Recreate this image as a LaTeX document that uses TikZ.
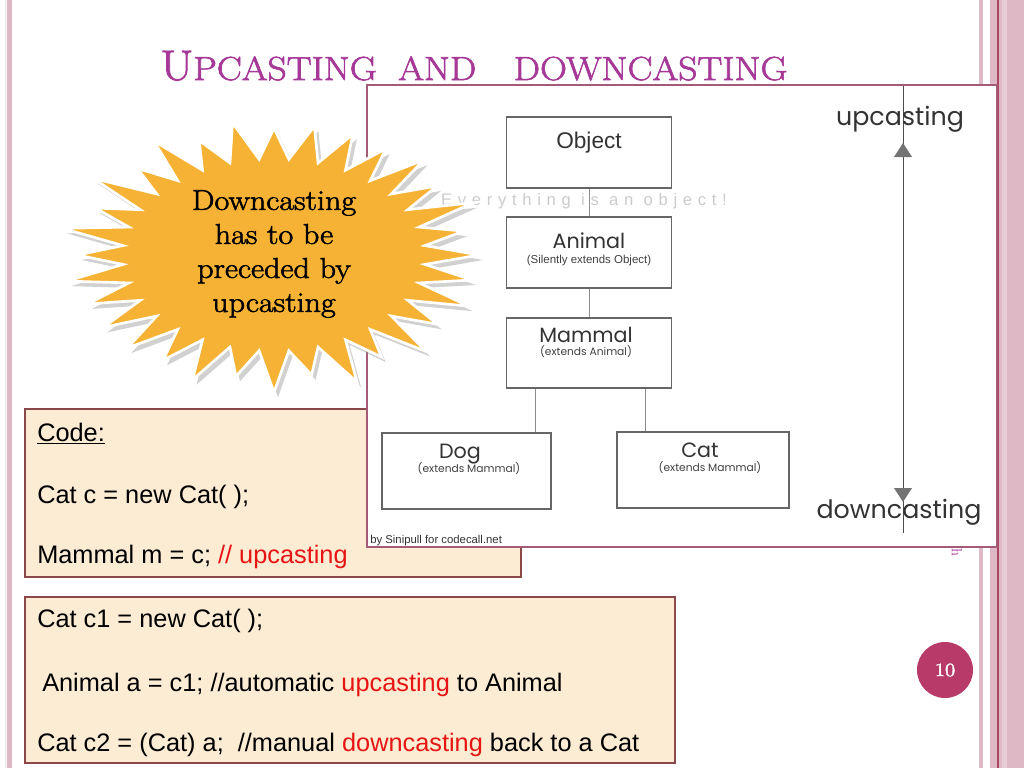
\documentclass[tikz,border=0pt]{standalone}
\usepackage{fontspec}
\newfontfamily\arialfont{Liberation Sans}
\newfontfamily\gothicfont{Poppins}
\newfontfamily\spacedfont[LetterSpace=34]{Liberation Sans}
\newfontfamily\bookfont[FakeStretch=1.12,FakeBold=2]{Latin Modern Roman}
\usetikzlibrary{positioning}

\definecolor{titlepurple}{RGB}{166,56,152}
\definecolor{starorange}{RGB}{246,178,52}
\definecolor{peach}{RGB}{253,236,212}
\definecolor{boxbrown}{RGB}{140,72,72}
\definecolor{framepink}{RGB}{165,90,120}
\definecolor{barpink}{RGB}{222,184,196}
\definecolor{barline}{RGB}{170,70,100}
\definecolor{numberred}{RGB}{184,58,104}
\definecolor{codered}{RGB}{230,20,20}

\newcommand{\px}{0.75pt}
% spiky outline of the note, centred on the origin
\newcommand{\burstpath}[1]{%
  \path[#1] (0:205 and 130)
    \foreach \k [evaluate=\k as \spk using {0.87+0.13*cos(\k*180)+0.03*sin(\k*97)*(1+cos(\k*180))}] in {1,...,63}
      { -- ({\k*45/8}:{\spk*205} and {\spk*130}) } -- cycle;}

\begin{document}
\begin{tikzpicture}[x=0.75pt,y=-0.75pt,
    diabox/.style={draw=black!60, line width=0.9pt, fill=white, inner sep=0pt},
    link/.style={draw=black!45, line width=0.6pt},
    classname/.style={anchor=base, inner sep=0pt, text=black!80, font=\gothicfont\fontsize{15.5}{16}\selectfont},
    classnote/.style={anchor=base, inner sep=0pt, text=black!75, font=\gothicfont\fontsize{8}{9}\selectfont},
    castlabel/.style={anchor=base, inner sep=0pt, text=black!80, font=\gothicfont\fontsize{19}{20}\selectfont},
    codebox/.style={draw=boxbrown, line width=0.8pt, fill=peach, inner sep=0pt},
    codeline/.style={anchor=base west, inner sep=0pt, font=\arialfont\fontsize{19}{22}\selectfont}]

    \useasboundingbox (0,0) rectangle (1024,768);
    \fill[white] (0,0) rectangle (1024,768);

    % slide borders
    \fill[barpink!45] (4.5,0) rectangle (6,768);
    \fill[barpink] (7,0) rectangle (12,768);
    \fill[barpink] (979,0) rectangle (983,768);
    \fill[barpink] (990,0) rectangle (1024,768);
    \fill[barpink!70] (1002,0) rectangle (1007,768);
    \draw[barline, line width=0.8pt] (998,0) -- (998,768);

    % title
    \node[anchor=base west, inner sep=0pt, text=titlepurple, font=\bookfont] (title) at (160,80)
        {{\fontsize{32}{32}\selectfont U}{\fontsize{25}{25}\selectfont PCASTING\hspace{16pt}AND\hspace{28pt}DOWNCASTING}};

    % first code box
    \node[codebox, minimum width=496*\px, minimum height=168*\px] (codeA) at (273,493) {};
    \node[codeline] (codehead) at (37,441) {\underline{Code:}};
    \node[codeline] (codenew) at (37,503) {Cat c = new Cat( );};
    \node[codeline] (codeup) at (37,563) {Mammal m = c; \textcolor{codered}{// upcasting}};

    % the class picture
    \node[draw=framepink, fill=white, line width=1pt, minimum width=630*\px, minimum height=462*\px, inner sep=0pt] (shot) at (682,316) {};
    \node[anchor=base, inner sep=0pt, text=black!20, font=\spacedfont\fontsize{12.5}{12}\selectfont] (motto) at (584,205) {Everything is an object!};

    \node[diabox, minimum width=165*\px, minimum height=71*\px] (object) at (589,152.5) {};
    \node[diabox, minimum width=165*\px, minimum height=71*\px] (animal) at (589,252.5) {};
    \node[diabox, minimum width=165*\px, minimum height=70*\px] (mammal) at (589,353) {};
    \node[diabox, minimum width=169*\px, minimum height=76*\px] (dog) at (466.5,471) {};
    \node[diabox, minimum width=172*\px, minimum height=76*\px] (cat) at (703,470) {};

    \coordinate (dogtap) at (535,0);
    \coordinate (cattap) at (645,0);
    \draw[link] (object.south) -- (animal.north);
    \draw[link] (animal.south) -- (mammal.north);
    \draw[link] (mammal.south -| dogtap) -- (dog.north -| dogtap);
    \draw[link] (mammal.south -| cattap) -- (cat.north -| cattap);

    \node[anchor=base, inner sep=0pt, text=black!80, font=\arialfont\fontsize{17}{18}\selectfont] (objectname) at (589,148) {Object};
    \node[classname] (animalname) at (589,248) {Animal};
    \node[anchor=base, inner sep=0pt, text=black!75, font=\arialfont\fontsize{8.6}{9}\selectfont] (animalnote) at (589,263) {(Silently extends Object)};
    \node[classname] (mammalname) at (586,342) {Mammal};
    \node[classnote] (mammalnote) at (586,355) {(extends Animal)};
    \node[classname] (dogname) at (460,458) {Dog};
    \node[classnote] (dognote) at (469,472) {(extends Mammal)};
    \node[classname] (catname) at (700,457) {Cat};
    \node[classnote] (catnote) at (710,471) {(extends Mammal)};

    % up and down
    \coordinate (axistop) at (903,86);
    \coordinate (axisbot) at (903,533);
    \coordinate (uptip) at (903,143);
    \coordinate (downtip) at (903,502);
    \draw[black!70, line width=0.6pt] (axistop) -- (axisbot);
    \fill[black!55] (uptip) -- ++(-9,14) -- ++(18,0) -- cycle;
    \fill[black!55] (downtip) -- ++(-9,-14) -- ++(18,0) -- cycle;
    \node[castlabel] (uplabel) at (900,125) {upcasting};
    \node[castlabel] (downlabel) at (899,518) {downcasting};

    \node[anchor=base west, inner sep=0pt, text=black!80, font=\arialfont\fontsize{8.5}{9}\selectfont] (credit) at (370,543) {by Sinipull for codecall.net};

    % the note
    \begin{scope}[shift={(274,255)}]
        \burstpath{fill=black!40, opacity=0.45, shift={(4,5)}}
        \burstpath{fill=starorange, draw=white, line width=2pt}
    \end{scope}
    \node[align=center, inner sep=0pt, font=\bookfont\fontsize{21.5}{25.5}\selectfont] (burstnote) at (274,254)
        {Downcasting\\has to be\\preceded by\\upcasting};

    % second code box
    \node[codebox, minimum width=650*\px, minimum height=166*\px] (codeB) at (350,680) {};
    \node[codeline] (codecat) at (37,627) {Cat c1 = new Cat( );};
    \node[codeline] (codeauto) at (42,691) {Animal a = c1; //automatic \textcolor{codered}{upcasting} to Animal};
    \node[codeline] (codemanual) at (37,751) {Cat c2 = (Cat) a;\ \ //manual \textcolor{codered}{downcasting} back to a Cat};

    % page number
    \node[circle, fill=numberred, minimum size=56*\px, inner sep=0pt, text=white, font=\bookfont\fontsize{14}{14}\selectfont] (pagenum) at (945,670) {10};
    \node[rotate=-90, inner sep=0pt, text=titlepurple, font=\fontsize{11}{11}\selectfont] (footer) at (957,552) {h};
\end{tikzpicture}
\end{document}
